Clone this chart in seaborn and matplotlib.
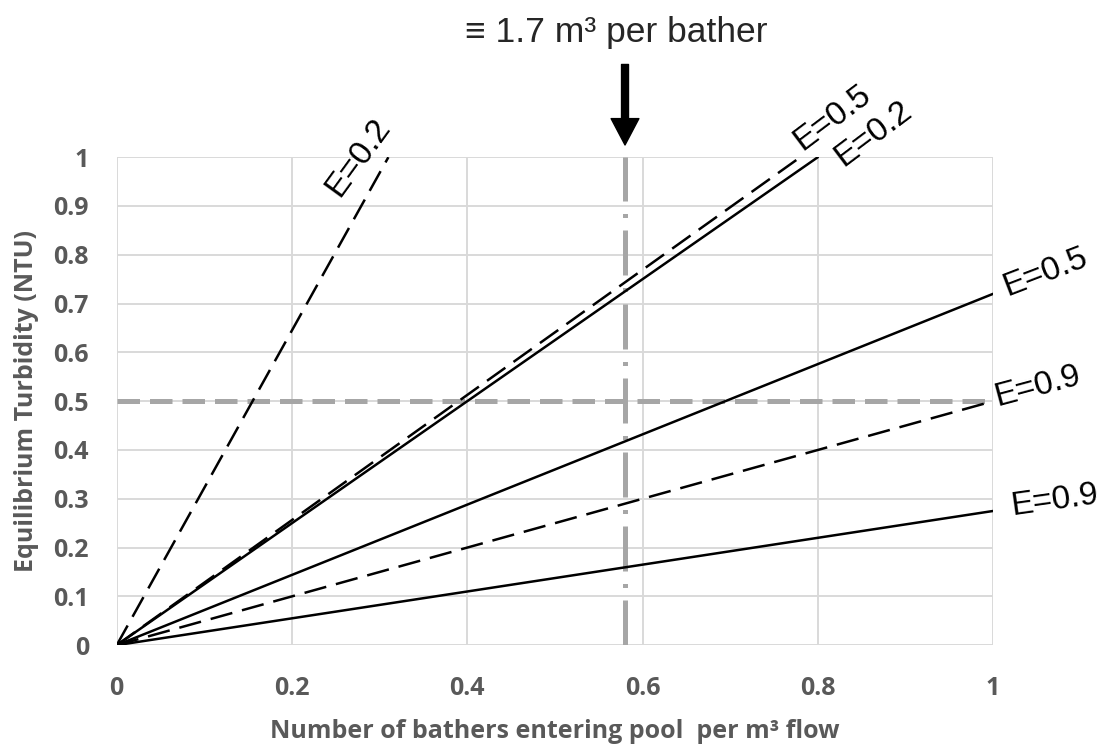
import seaborn as sns
from matplotlib import pyplot as plt

# line end points (all lines start at the origin)
line_labels = ["E=0.2", "E=0.5", "E=0.2", "E=0.5", "E=0.9", "E=0.9"]
line_dashed = [True, True, False, False, True, False]
x_end = [0.31, 0.78, 0.80, 1.0, 1.0, 1.0]
y_end = [1.0, 1.0, 1.0, 0.72, 0.50, 0.275]

# reference lines
turbidity_limit = 0.5
bathers_marker = 0.58
marker_text = "\u2261 1.7 m\u00b3 per bather"

x_ticks = [0, 0.2, 0.4, 0.6, 0.8, 1]
y_ticks = [0, 0.1, 0.2, 0.3, 0.4, 0.5, 0.6, 0.7, 0.8, 0.9, 1]
x_tick_labels = ["0", "0.2", "0.4", "0.6", "0.8", "1"]
y_tick_labels = ["0", "0.1", "0.2", "0.3", "0.4", "0.5", "0.6", "0.7", "0.8", "0.9", "1"]

sns.set_style("white")
plt.rcParams['font.family'] = ['Open Sans', 'DejaVu Sans']

fig = plt.figure(figsize=(11.01, 7.45), dpi=100)
ax = fig.add_axes([0.106, 0.134, 0.796, 0.655])

grid_col = "#d9d9d9"
for v in x_ticks:
    ax.axvline(v, color=grid_col, lw=1.4, zorder=0)
for v in y_ticks:
    ax.axhline(v, color=grid_col, lw=1.4, zorder=0)

ax.axhline(turbidity_limit, color="#a6a6a6", lw=3.6, dashes=(4.5, 2), zorder=1)
ax.axvline(bathers_marker, color="#a6a6a6", lw=3.6, dashes=(9, 2.5, 0.8, 2.5), zorder=1)

for xe, ye, dashed in zip(x_end, y_end, line_dashed):
    sns.lineplot(x=[0, xe], y=[0, ye], ax=ax, color="black", lw=1.8, zorder=3)
    if dashed:
        ax.lines[-1].set_dashes((9, 4))

ax.set_xlim(0, 1)
ax.set_ylim(0, 1)
ax.set_xticks(x_ticks)
ax.set_xticklabels(x_tick_labels)
ax.set_yticks(y_ticks)
ax.set_yticklabels(y_tick_labels)
ax.tick_params(axis="both", length=0, labelsize=18, labelcolor="#595959")
ax.tick_params(axis="y", pad=20)
ax.tick_params(axis="x", pad=22)
for lab in ax.get_xticklabels() + ax.get_yticklabels():
    lab.set_fontweight("bold")
for s in ax.spines.values():
    s.set_visible(False)

ax.set_xlabel("Number of bathers entering pool  per m\u00b3 flow", fontsize=18,
              color="#595959", fontweight="bold", labelpad=13)
ax.set_ylabel("Equilibrium Turbidity (NTU)", fontsize=18, color="#595959",
              fontweight="bold", labelpad=10)

# curve labels
label_font = dict(fontsize=24, family=['Liberation Sans', 'DejaVu Sans'], color="black",
                  ha="center", va="center", rotation_mode="anchor", clip_on=False)
label_pos = [(0.276, 1.0), (0.816, 1.08), (0.863, 1.049), (1.059, 0.764), (1.051, 0.531), (1.07, 0.297)]
label_rot = [54, 37, 37, 21, 15, 8]
for txt, (lx, ly), rot in zip(line_labels, label_pos, label_rot):
    ax.text(lx, ly, txt, rotation=rot, **label_font)

ax.annotate("", xy=(bathers_marker, 1.025), xytext=(bathers_marker, 1.19),
            arrowprops=dict(width=5, headwidth=20, headlength=19, color="black"),
            annotation_clip=False)
ax.text(0.57, 1.255, marker_text, ha="center", va="center", fontsize=25.5,
        family=['Liberation Sans', 'DejaVu Sans'], clip_on=False)

fig.savefig("out.png", dpi=100)
